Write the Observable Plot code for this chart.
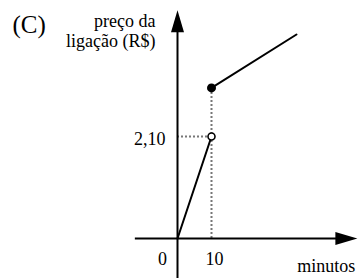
<!DOCTYPE html>
<html><head><meta charset="utf-8">
<script src="https://cdn.jsdelivr.net/npm/d3@7"></script>
<script src="https://cdn.jsdelivr.net/npm/@observablehq/plot@0.6"></script>
<style>body{margin:0;background:#fff} svg{display:block} svg text{font-family:'Liberation Serif','Times New Roman',serif}</style>
</head><body><div id="chart"></div>
<script>
// Data
const seg1Minutes = [0, 10];
const seg1Price = [0, 2.10];
const seg2Minutes = [10, 35];
const seg2Price = [3.1, 4.2];
const xTickValues = [0, 10];
const xTickLabels = ["0", "10"];
const yTickValues = [2.10];
const yTickLabels = ["2,10"];
const xAxisExtent = [-12.4, 52.9];
const yAxisExtent = [-0.85, 4.7];
const panelLabel = "(C)";
const yAxisTitle = ["preço da", "ligação (R$)"];
const xAxisTitle = "minutos";

const seg1 = seg1Minutes.map((m, i) => ({x: m, y: seg1Price[i]}));
const seg2 = seg2Minutes.map((m, i) => ({x: m, y: seg2Price[i]}));
const openPt = [seg1[seg1.length - 1]];
const closedPt = [seg2[0]];

const arrowUp = {draw(ctx) { ctx.moveTo(0, 0); ctx.lineTo(-6.5, 22); ctx.lineTo(6.5, 22); ctx.closePath(); }};
const arrowRight = {draw(ctx) { ctx.moveTo(0, 0); ctx.lineTo(-22, -6.5); ctx.lineTo(-22, 6.5); ctx.closePath(); }};

const font = "'Liberation Serif', 'Times New Roman', serif";
const textOpts = {fontFamily: font, fontSize: 18, fill: "black", lineAnchor: "bottom"};

const chart = Plot.plot({
  width: 358,
  height: 278,
  margin: 0,
  style: {fontFamily: font, background: "#fff"},
  x: {domain: [0, 10], range: [177, 211], axis: null},
  y: {domain: [0, 2.1], range: [238, 136], axis: null},
  marks: [
    // dotted guides
    Plot.ruleY([{y: seg1Price[1], x1: 0, x2: seg1Minutes[1]}], {y: "y", x1: "x1", x2: "x2", stroke: "#777", strokeWidth: 2, strokeDasharray: "2,2"}),
    Plot.ruleX([{x: seg2Minutes[0], y1: 0, y2: seg2Price[0]}], {x: "x", y1: "y1", y2: "y2", stroke: "#777", strokeWidth: 2, strokeDasharray: "2,2"}),
    // axes
    Plot.ruleX([{x: 0, y1: yAxisExtent[0], y2: yAxisExtent[1] - 0.3}], {x: "x", y1: "y1", y2: "y2", stroke: "black", strokeWidth: 2}),
    Plot.ruleY([{y: 0, x1: xAxisExtent[0], x2: xAxisExtent[1] - 4}], {y: "y", x1: "x1", x2: "x2", stroke: "black", strokeWidth: 2}),
    Plot.dot([{x: 0, y: yAxisExtent[1]}], {x: "x", y: "y", symbol: arrowUp, fill: "black", stroke: "none"}),
    Plot.dot([{x: xAxisExtent[1], y: 0}], {x: "x", y: "y", symbol: arrowRight, fill: "black", stroke: "none"}),
    // function segments
    Plot.line(seg1, {x: "x", y: "y", stroke: "black", strokeWidth: 2}),
    Plot.line(seg2, {x: "x", y: "y", stroke: "black", strokeWidth: 2}),
    Plot.dot(openPt, {x: "x", y: "y", r: 3.5, fill: "white", stroke: "black", strokeWidth: 1.6}),
    Plot.dot(closedPt, {x: "x", y: "y", r: 4.5, fill: "black", stroke: "none"}),
    // tick labels
    Plot.text([{x: xTickValues[0], y: 0, t: xTickLabels[0]}], {...textOpts, x: "x", y: "y", text: "t", dx: -15, dy: 26}),
    Plot.text([{x: xTickValues[1], y: 0, t: xTickLabels[1]}], {...textOpts, x: "x", y: "y", text: "t", dx: 3, dy: 26}),
    Plot.text([{x: 0, y: yTickValues[0], t: yTickLabels[0]}], {...textOpts, x: "x", y: "y", text: "t", dx: -12, dy: 8, textAnchor: "end"}),
    // titles
    Plot.text([{x: xAxisExtent[1], y: 0, t: xAxisTitle}], {...textOpts, x: "x", y: "y", text: "t", dx: -2, dy: 33, textAnchor: "end"}),
    Plot.text([{x: 0, y: yAxisExtent[1], t: yAxisTitle.join("\n")}], {...textOpts, x: "x", y: "y", text: "t", dx: -22, dy: 37, textAnchor: "end", lineHeight: 1.11}),
    Plot.text([panelLabel], {...textOpts, frameAnchor: "top-left", dx: 12, dy: 32, textAnchor: "start", fontSize: 25})
  ]
});
document.getElementById("chart").appendChild(chart);
</script>
</body></html>
